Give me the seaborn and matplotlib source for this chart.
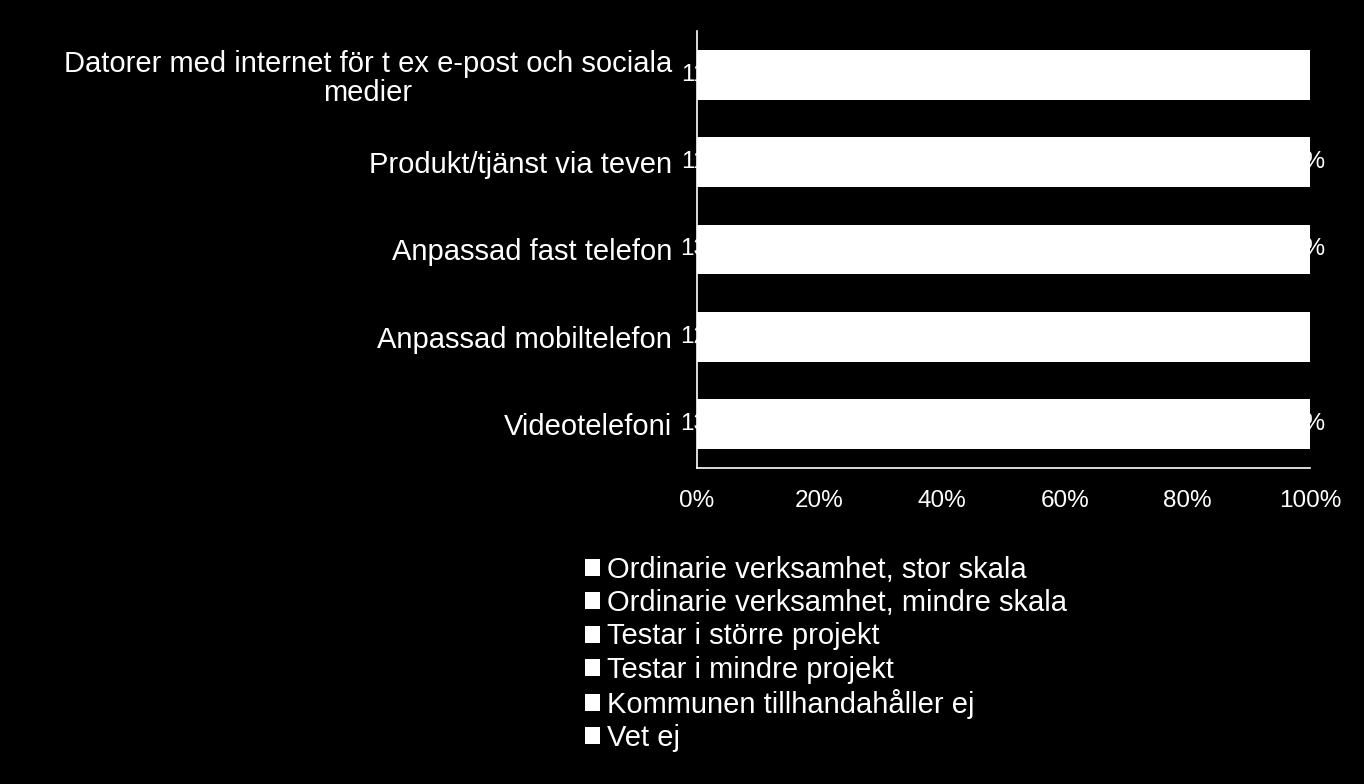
import matplotlib
matplotlib.use("Agg")
import matplotlib.pyplot as plt
import seaborn as sns
import numpy as np
import pandas as pd
from matplotlib.patches import Patch

sns.set_style("white")
plt.rcParams['font.family'] = ['Liberation Sans', 'DejaVu Sans']

categories = [
    "Datorer med internet för t ex e-post och sociala\nmedier",
    "Produkt/tjänst via teven",
    "Anpassad fast telefon",
    "Anpassad mobiltelefon",
    "Videotelefoni",
]
series_names = [
    "Ordinarie verksamhet, stor skala",
    "Ordinarie verksamhet, mindre skala",
    "Testar i större projekt",
    "Testar i mindre projekt",
    "Kommunen tillhandahåller ej",
    "Vet ej",
]
stor_skala = [11, 11, 13, 12, 13]
mindre_skala = [20, 15, 25, 22, 18]
storre_projekt = [8, 6, 5, 6, 10]
mindre_projekt = [10, 9, 8, 9, 15]
tillhandahaller_ej = [51, 58, 48, 51, 43]
vet_ej = [0, 1, 1, 0, 1]
x_ticks = [0, 20, 40, 60, 80, 100]
x_tick_labels = ["0%", "20%", "40%", "60%", "80%", "100%"]

series = [stor_skala, mindre_skala, storre_projekt, mindre_projekt, tillhandahaller_ej, vet_ej]
cum = np.cumsum(np.array(series, dtype=float), axis=0)

fig = plt.figure(figsize=(13.64, 7.84), dpi=100)
fig.patch.set_facecolor("black")
ax = fig.add_axes([697/1364, 1 - 467.5/784, (1310-697)/1364, (467.5-31.4)/784])
ax.set_facecolor("black")

# draw cumulative totals from the last series to the first (stacked look)
for i in range(len(series) - 1, -1, -1):
    df = pd.DataFrame({"cat": categories, "val": cum[i]})
    sns.barplot(data=df, x="val", y="cat", orient="y", color="white",
                width=0.57, ax=ax, saturation=1, edgecolor="none", linewidth=0)

ax.set_xlim(0, 100)
ax.set_ylim(4.5, -0.5)
ax.set_xticks(x_ticks)
ax.set_xticklabels(x_tick_labels, color="white", fontsize=17.5)
ax.set_xlabel("")
ax.set_ylabel("")
ax.tick_params(axis="x", length=0, pad=16)
ax.tick_params(axis="y", length=0, pad=18)
for lab in ax.get_yticklabels():
    lab.set_color("white")
    lab.set_fontsize(21)
    lab.set_multialignment("center")
    lab.set_linespacing(1.05)
for s in ["top", "right"]:
    ax.spines[s].set_visible(False)
for s in ["left", "bottom"]:
    ax.spines[s].set_color("white")
    ax.spines[s].set_linewidth(1.2)

# data labels (white, mostly hidden behind the white bars)
for j in range(len(categories)):
    v = stor_skala[j]
    if v > 0:
        ax.annotate(f"{v}%", xy=(0, j), xytext=(5.5, 0), textcoords="offset points",
                    ha="center", va="center", color="white", fontsize=17.5,
                    annotation_clip=False, zorder=1)
    v = vet_ej[j]
    if v > 0:
        ax.annotate(f"{v}%", xy=(100, j), xytext=(-1.5, 0), textcoords="offset points",
                    ha="center", va="center", color="white", fontsize=17.5,
                    annotation_clip=False, zorder=1)

handles = [Patch(facecolor="white", edgecolor="none", label=n) for n in series_names]
fig.legend(handles=handles, loc="upper left", bbox_to_anchor=(585/1364, 1 - 556/784),
           frameon=False, fontsize=21, labelcolor="white", handlelength=0.52,
           handleheight=0.52, handletextpad=0.25, labelspacing=0.18, borderpad=0,
           borderaxespad=0)

fig.savefig("out.png", dpi=100, facecolor="black")
